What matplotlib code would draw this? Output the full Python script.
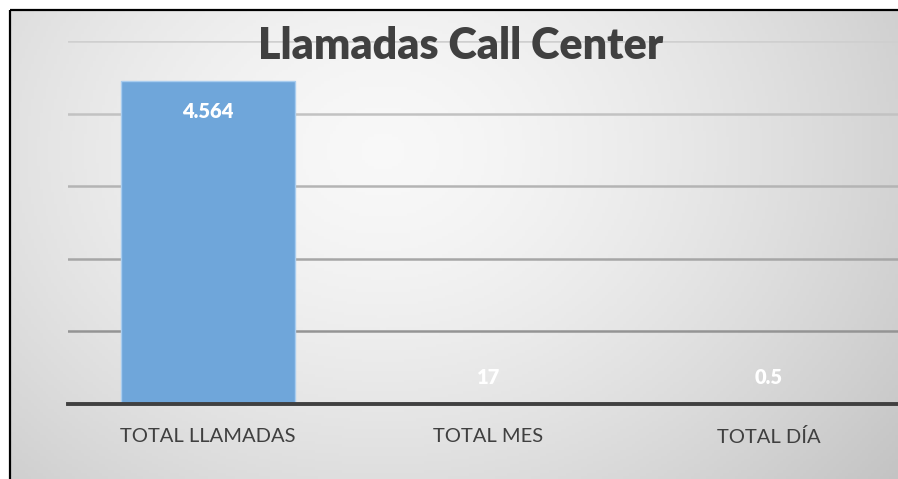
import numpy as np
import matplotlib.pyplot as plt
from matplotlib.lines import Line2D

categories = ['TOTAL LLAMADAS', 'TOTAL MES', 'TOTAL DÍA']
values = [4564, 17, 0.5]
value_labels = ['4.564', '17', '0.5']
title = 'Llamadas Call Center'

plt.rcParams['font.family'] = ['Lato', 'DejaVu Sans']

fig = plt.figure(figsize=(8.98, 4.79), dpi=100)
W, H = 898, 479

# gradient background inside the chart frame (frame starts at x=9, y=10)
fx0, fy0 = 10 / W, 11 / H
bg = fig.add_axes([fx0, 0, 1 - fx0, 1 - fy0], zorder=0)
gx = np.linspace(0, 1, 301)
gy = np.linspace(0, 1, 161)
cx, cy = np.meshgrid((gx[:-1] + gx[1:]) / 2, (gy[:-1] + gy[1:]) / 2)
d = np.sqrt(((cx - 0.42) / 0.72) ** 2 + ((cy - 0.3) / 1.1) ** 2)
shade = 0.97 - 0.2 * np.clip(d, 0, 1.2) ** 1.5
bg.pcolormesh(gx, gy, shade, cmap='gray', vmin=0, vmax=1, shading='flat')
bg.set_xlim(0, 1)
bg.set_ylim(1, 0)
bg.axis('off')

# black frame, left and top only (rest is cropped)
fig.add_artist(Line2D([9.5 / W, 9.5 / W], [0, 1 - 10 / H], color='black', lw=1.6,
                      solid_capstyle='butt'))
fig.add_artist(Line2D([9.5 / W, 1.0], [1 - 10 / H, 1 - 10 / H], color='black', lw=1.6,
                      solid_capstyle='butt'))

# plot area: extends past the right edge of the figure
left, right = 68, 909
bottom, top = 404, 41
ax = fig.add_axes([left / W, 1 - bottom / H, (right - left) / W, (bottom - top) / H],
                  zorder=1)
ax.patch.set_alpha(0)
step = 1025
x = np.arange(len(categories))
ax.set_xlim(-0.5, len(categories) - 0.5)
ax.set_ylim(0, 5 * step)
ax.set_yticks(np.arange(0, 5 * step + 1, step))
ax.yaxis.grid(True, lw=1.8, zorder=0)
grid_colors = ['#808080', '#949494', '#a6a6a6', '#b4b4b4', '#c2c2c2', '#cfcfcf']
for gl, c in zip(ax.get_ygridlines(), grid_colors):
    gl.set_color(c)
ax.set_axisbelow(True)
ax.bar(x, values, width=0.62, color='#6fa6da', edgecolor='#a9cdef', lw=1.0, zorder=2)

for xi, v, lab in zip(x, values, value_labels):
    if v > step:
        ax.annotate(lab, (xi, v), xytext=(0, -22), textcoords='offset points',
                    ha='center', va='center', color='white', fontsize=14.5,
                    fontweight='heavy', zorder=3)
    else:
        ax.annotate(lab, (xi, 0), xytext=(0, 19), textcoords='offset points',
                    ha='center', va='center', color='white', fontsize=14.5,
                    fontweight='heavy', zorder=3)

for s in ['top', 'right', 'left']:
    ax.spines[s].set_visible(False)
ax.spines['bottom'].set_color('#404040')
ax.spines['bottom'].set_linewidth(2.8)
ax.spines['bottom'].set_zorder(4)
ax.tick_params(axis='y', left=False, labelleft=False)
ax.tick_params(axis='x', length=0, pad=17, labelsize=14.5, labelcolor='#404040')
ax.set_xticks(x)
ax.set_xticklabels(categories)

fig.text(461 / W, 1 - 46 / H, title, ha='center', va='center', fontsize=31,
         fontweight='heavy', color='#404040', zorder=5)

fig.savefig('out.png', dpi=100)
